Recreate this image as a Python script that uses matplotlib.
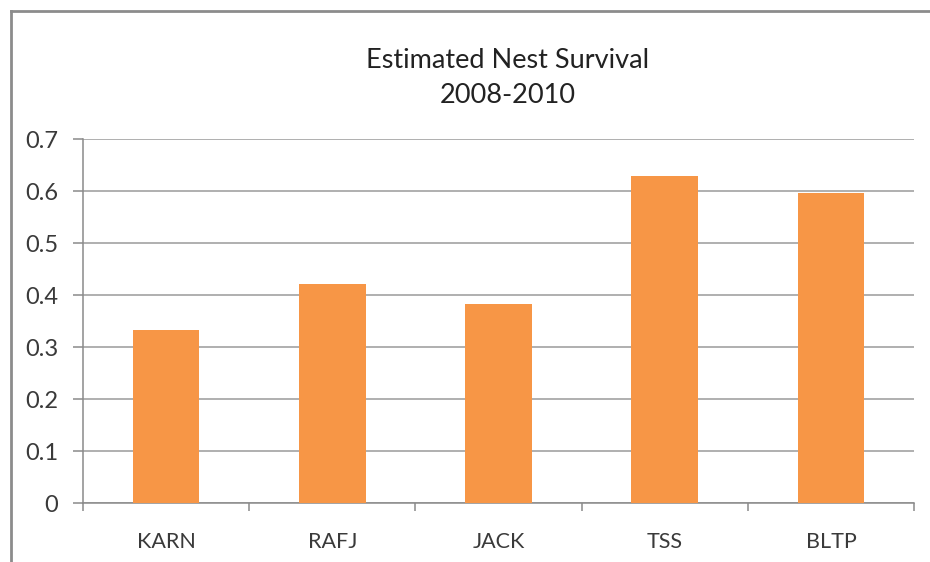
import matplotlib
matplotlib.use("Agg")
import matplotlib.pyplot as plt
from matplotlib.lines import Line2D
import numpy as np

sites = ["KARN", "RAFJ", "JACK", "TSS", "BLTP"]
survival = [0.333, 0.421, 0.383, 0.629, 0.596]
yticks = [0, 0.1, 0.2, 0.3, 0.4, 0.5, 0.6, 0.7]

plt.rcParams['font.family'] = ['Lato', 'DejaVu Sans']

fig = plt.figure(figsize=(9.3, 5.62), dpi=100)
ax = fig.add_axes([83 / 930, 1 - 503.3 / 562, (914 - 83) / 930, (503.3 - 139) / 562])

x = np.arange(len(sites))
ax.bar(x, survival, width=0.4, color="#F79646", zorder=3)

ax.set_xlim(-0.5, len(sites) - 0.5)
ax.set_ylim(0, 0.7)
ax.set_yticks(yticks)
ax.set_yticklabels([f"{v:g}" for v in yticks])
ax.yaxis.grid(True, color="#9a9a9a", linewidth=1.1, zorder=0)

# category labels at centers, tick marks between categories
ax.set_xticks(x)
ax.set_xticklabels(sites)
ax.set_xticks(np.arange(len(sites) + 1) - 0.5, minor=True)
ax.tick_params(axis="x", which="major", length=0, pad=21, labelsize=15.5, labelcolor="#3a3a3a")
ax.tick_params(axis="x", which="minor", length=6, width=1.1, color="#8a8a8a", direction="out")
ax.tick_params(axis="y", length=7, width=1.1, color="#8a8a8a", pad=11, labelsize=17, labelcolor="#3a3a3a")

for side in ["top", "right"]:
    ax.spines[side].set_visible(False)
for side in ["left", "bottom"]:
    ax.spines[side].set_color("#8a8a8a")
    ax.spines[side].set_linewidth(1.1)

fig.text(508 / 930, 1 - 68 / 562, "Estimated Nest Survival", ha="center", va="baseline",
         fontsize=19.5, color="#222222")
fig.text(508 / 930, 1 - 103 / 562, "2008-2010", ha="center", va="baseline",
         fontsize=19.5, color="#222222")

# chart area frame (only top and left edges fall inside the image)
fig.add_artist(Line2D([11 / 930, 1], [1 - 11 / 562] * 2, color="#8c8c8c", linewidth=2))
fig.add_artist(Line2D([11 / 930] * 2, [0, 1 - 11 / 562], color="#8c8c8c", linewidth=2))

fig.savefig("out.png", dpi=100)
